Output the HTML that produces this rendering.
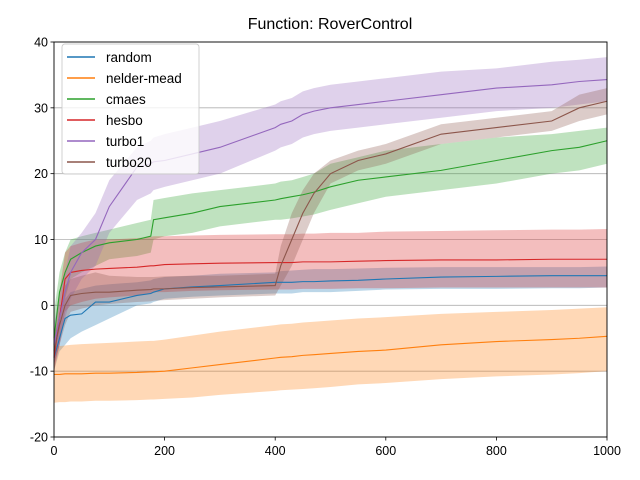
<!DOCTYPE html>
<html><head><meta charset="utf-8"><style>body{margin:0;background:#fff}svg{display:block;font-family:"Liberation Sans","DejaVu Sans",sans-serif}</style></head>
<body>
<svg id="chart" width="640" height="480">
<rect width="640" height="480" fill="#fff"/>
<text x="330" y="29" font-size="16" text-anchor="middle">Function: RoverControl</text>
<g id="grid"></g><g id="bands"></g><g id="lines"></g><g id="axes"></g><g id="legend"></g>
</svg>
<script>
const names=["random","nelder-mead","cmaes","hesbo","turbo1","turbo20"];
const colors=["#1f77b4","#ff7f0e","#2ca02c","#d62728","#9467bd","#8c564b"];
const xs=[0,10,20,30,50,75,100,150,175,180,200,250,300,400,410,430,450,470,500,550,600,700,800,900,950,1000];
const randomMean=[-8,-5,-2,-1.5,-1.3,0.5,0.5,1.5,1.8,2,2.5,2.8,3,3.5,3.5,3.5,3.6,3.6,3.7,3.8,4,4.3,4.4,4.5,4.5,4.5];
const randomLo=[-10,-7,-6,-5,-4,-3,-2,0,0.3,0.5,1,1.3,1.5,1.8,1.8,1.8,2,2,2,2.2,2.4,2.5,2.5,2.6,2.6,2.7];
const randomHi=[-5,-2,1,2,2.5,3,3.2,3.5,3.8,4,4.3,4.5,4.8,5,5.2,5.3,5.4,5.5,5.5,5.6,5.7,5.8,5.8,5.8,5.8,5.9];
const nmMean=[-10.5,-10.5,-10.4,-10.4,-10.4,-10.3,-10.3,-10.2,-10.1,-10.1,-10,-9.5,-9,-8,-7.9,-7.8,-7.6,-7.5,-7.3,-7,-6.8,-6,-5.5,-5.2,-5,-4.7];
const nmLo=[-14.8,-14.7,-14.7,-14.6,-14.6,-14.5,-14.5,-14.4,-14.3,-14.3,-14.2,-14,-13.6,-13,-12.9,-12.8,-12.7,-12.6,-12.4,-12,-11.8,-11.2,-10.8,-10.5,-10.3,-10];
const nmHi=[-6.2,-6.2,-6.1,-6,-5.9,-5.8,-5.7,-5.5,-5.4,-5.4,-5.2,-4.6,-4,-3,-2.9,-2.8,-2.6,-2.5,-2.3,-2,-1.8,-1.3,-1,-0.7,-0.5,-0.3];
const cmMean=[-5,2,5,7,8,9,9.5,10,10.5,13,13.3,14,15,16,16.2,16.5,16.8,17.2,18,19,19.5,20.5,22,23.5,24,25];
const cmLo=[-9,-2,1,4,5,6,7,7.5,8,10,10.5,11,12,13,13,13.2,13.5,13.8,14.5,15.5,16.5,17.5,18.5,20,20.5,21.5];
const cmHi=[-1,5,8,10,10.5,11,11.5,12.5,13,16,16.3,17,17.5,18.5,18.8,19,19.5,20,21.5,22.5,23.5,24.5,25.5,26,26.5,27];
const heMean=[-8,-2,4,5,5.3,5.5,5.6,5.8,6,6,6.2,6.3,6.4,6.5,6.5,6.5,6.6,6.6,6.6,6.7,6.8,6.9,6.9,7,7,7];
const heLo=[-10,-6,-1,0,0.5,1,1.2,1.5,1.8,2,2,2.2,2.3,2.4,2.4,2.4,2.5,2.5,2.5,2.6,2.6,2.7,2.7,2.7,2.7,2.7];
const heHi=[-5,2,8,9,9.5,10,10,10.2,10.4,10.5,10.5,10.6,10.7,10.8,10.8,10.8,10.9,10.9,11,11,11.2,11.3,11.4,11.5,11.5,11.6];
const t1Mean=[-6,-2,2,5,8,10,15,21,21.5,21.8,22,23,24,27,27.5,28,29,29.5,30,30.5,31,32,33,33.5,34,34.3];
const t1Lo=[-9,-6,-2,1,4,6,11,16,17,17.5,18,19,20,23.5,24,24.5,25.5,26,26.5,27,27.5,28.5,29.5,30,30.5,31];
const t1Hi=[-3,2,5,9,11,14,19,24,25,25.5,26,27,28,30.5,31,31.5,32.5,33,33.5,34,34.5,35.5,36,37,37.3,37.7];
const t20Mean=[-7,-3,0,1.5,1.8,2,2,2.3,2.4,2.5,2.5,2.7,2.8,3,6,10,14,17,20,22,23,26,27,28,30,31];
const t20Lo=[-9,-6,-3,-1,-0.5,0,0.2,0.5,0.6,0.7,0.8,1,1.2,1.5,3,6,10,14,18.5,20.5,21.5,24.5,25.5,26.5,28,29];
const t20Hi=[-5,-1,3,4,4.5,5,4.5,4.3,4.3,4.3,4.4,4.5,4.5,4.8,9,14,17.5,20,22,23.5,24.5,27.5,28.5,29.5,32,33];
const means=[randomMean,nmMean,cmMean,heMean,t1Mean,t20Mean];
const los=[randomLo,nmLo,cmLo,heLo,t1Lo,t20Lo];
const his=[randomHi,nmHi,cmHi,heHi,t1Hi,t20Hi];
const xTicks=[0,200,400,600,800,1000];
const yTicks=[-20,-10,0,10,20,30,40];
const L=54,R=607,T=42,B=437,ymin=-20,ymax=40;
const sx=v=>L+(v/1000)*(R-L);
const sy=v=>T+(ymax-v)/(ymax-ymin)*(B-T);
const NS="http://www.w3.org/2000/svg";
function mk(tag,attrs,parent){const e=document.createElementNS(NS,tag);for(const k in attrs)e.setAttribute(k,attrs[k]);parent.appendChild(e);return e;}
const grid=document.getElementById('grid'),bands=document.getElementById('bands'),lines=document.getElementById('lines'),axes=document.getElementById('axes'),leg=document.getElementById('legend');
yTicks.forEach(t=>{
 const g=mk('line',{x1:L,x2:R,y1:sy(t),y2:sy(t),stroke:'#b0b0b0','stroke-width':0.8},grid);
 
 
 const tk=mk('line',{x1:L-3.5,x2:L,y1:sy(t),y2:sy(t),stroke:'#000','stroke-width':0.8},axes);
 
 
 const tx=mk('text',{x:L-6,y:sy(t)+4.5,'font-size':12.5,'text-anchor':'end'},axes);tx.textContent=t;
 
 
});
xTicks.forEach(t=>{
 const tk=mk('line',{x1:sx(t),x2:sx(t),y1:B,y2:B+3.5,stroke:'#000','stroke-width':0.8},axes);
 
 
 const tx=mk('text',{x:sx(t),y:B+18,'font-size':12.5,'text-anchor':'middle'},axes);tx.textContent=t;
 
 
});
function pts(arr){return xs.map((x,i)=>[sx(x),sy(arr[i])]);}
names.forEach((n,i)=>{
 const up=pts(his[i]),dn=pts(los[i]).reverse();
 const poly=mk('polygon',{points:up.concat(dn).map(p=>p.join(',')).join(' '),fill:colors[i],'fill-opacity':0.3,stroke:'none'},bands);
 
 
 const ln=mk('polyline',{points:pts(means[i]).map(p=>p.join(',')).join(' '),fill:'none',stroke:colors[i],'stroke-width':1.1},lines);
 
 
});
const fr=mk('rect',{x:L,y:T,width:R-L,height:B-T,fill:'none',stroke:'#000','stroke-width':0.9},axes);


const lb=mk('rect',{x:62,y:44,width:137,height:130,rx:3,fill:'#fff','fill-opacity':0.8,stroke:'#ccc','stroke-width':0.9},leg);


names.forEach((n,i)=>{
 const y=57+i*21;
 const l=mk('line',{x1:67,x2:95,y1:y,y2:y,stroke:colors[i],'stroke-width':1.4},leg);
 
 
 const t=mk('text',{x:106,y:y+5,'font-size':13.5},leg);t.textContent=n;
 
 
});
</script>
</body></html>
